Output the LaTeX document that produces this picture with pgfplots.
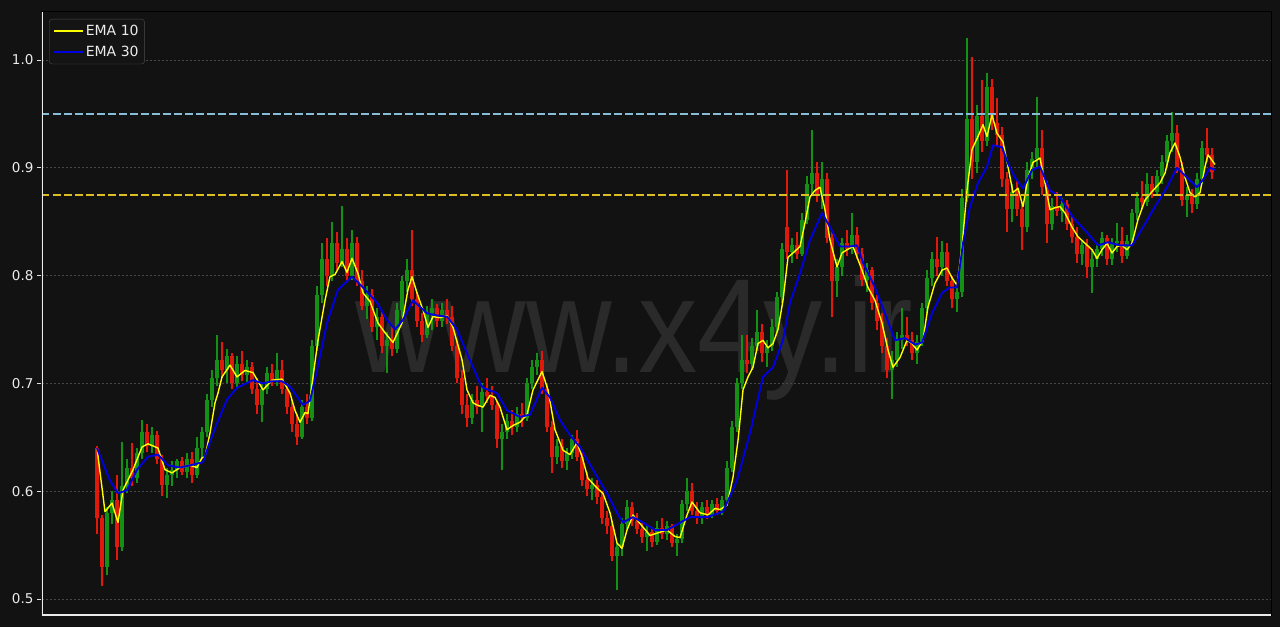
\documentclass[border=0pt]{standalone}
\usepackage{fontspec}
\setmainfont{DejaVu Sans}
\newfontfamily\wmfont{Liberation Sans}
\usepackage{graphicx}
\usepackage{pgfplots}
\usepackage{pgfplotstable}
\pgfplotsset{compat=1.18}
\definecolor{bg}{RGB}{18,18,18}
\definecolor{wm}{RGB}{42,42,42}
\definecolor{gridc}{RGB}{72,72,72}
\definecolor{tickc}{RGB}{225,225,225}
\definecolor{labc}{RGB}{235,235,235}
\definecolor{spinec}{RGB}{235,235,235}
\definecolor{cred}{RGB}{225,25,10}
\definecolor{cgreen}{RGB}{20,145,20}
\definecolor{emay}{RGB}{255,255,0}
\definecolor{emab}{RGB}{0,0,225}
\definecolor{dashb}{RGB}{135,190,215}
\definecolor{dashy}{RGB}{220,190,35}
\definecolor{legfill}{RGB}{20,20,20}
\definecolor{legdraw}{RGB}{75,75,75}

\pgfplotstableread{
x o h l c
0 0.640 0.642 0.560 0.575
5 0.575 0.578 0.512 0.530
10 0.530 0.585 0.522 0.580
15 0.580 0.600 0.570 0.592
20 0.592 0.615 0.536 0.548
25 0.548 0.646 0.545 0.605
30 0.605 0.630 0.598 0.622
35 0.622 0.645 0.605 0.612
40 0.612 0.640 0.608 0.635
45 0.635 0.666 0.630 0.655
50 0.655 0.662 0.636 0.642
55 0.642 0.660 0.635 0.652
60 0.652 0.656 0.625 0.630
65 0.630 0.634 0.596 0.606
70 0.606 0.622 0.594 0.615
75 0.615 0.628 0.605 0.620
80 0.620 0.630 0.612 0.628
85 0.628 0.632 0.615 0.618
90 0.618 0.635 0.612 0.630
95 0.630 0.636 0.608 0.615
100 0.615 0.650 0.612 0.640
105 0.640 0.660 0.632 0.655
110 0.655 0.690 0.650 0.685
115 0.685 0.712 0.678 0.705
120 0.705 0.745 0.698 0.722
125 0.722 0.738 0.705 0.712
130 0.712 0.732 0.700 0.725
135 0.725 0.728 0.695 0.700
140 0.700 0.725 0.695 0.718
145 0.718 0.730 0.702 0.708
150 0.708 0.722 0.700 0.715
155 0.715 0.720 0.690 0.695
160 0.695 0.705 0.672 0.680
165 0.680 0.700 0.664 0.695
170 0.695 0.715 0.690 0.710
175 0.710 0.718 0.698 0.702
180 0.702 0.728 0.698 0.712
185 0.712 0.722 0.690 0.695
190 0.695 0.700 0.672 0.678
195 0.678 0.685 0.655 0.662
200 0.662 0.672 0.643 0.650
205 0.650 0.685 0.648 0.678
210 0.678 0.690 0.662 0.668
215 0.668 0.740 0.665 0.735
220 0.735 0.790 0.730 0.782
225 0.782 0.830 0.775 0.815
230 0.815 0.835 0.790 0.800
235 0.800 0.850 0.795 0.830
240 0.830 0.840 0.805 0.812
245 0.812 0.865 0.808 0.825
250 0.825 0.835 0.795 0.800
255 0.800 0.842 0.796 0.830
260 0.830 0.836 0.790 0.795
265 0.795 0.805 0.768 0.772
270 0.772 0.790 0.760 0.782
275 0.782 0.788 0.748 0.752
280 0.752 0.770 0.740 0.762
285 0.762 0.766 0.728 0.735
290 0.735 0.748 0.710 0.740
295 0.740 0.752 0.725 0.732
300 0.732 0.775 0.728 0.768
305 0.768 0.800 0.762 0.795
310 0.795 0.815 0.785 0.805
315 0.805 0.842 0.772 0.778
320 0.778 0.785 0.752 0.758
325 0.758 0.765 0.738 0.745
330 0.745 0.772 0.742 0.765
335 0.765 0.778 0.750 0.770
340 0.770 0.774 0.752 0.758
345 0.758 0.775 0.752 0.768
350 0.768 0.778 0.755 0.762
355 0.762 0.772 0.730 0.735
360 0.735 0.740 0.700 0.705
365 0.705 0.712 0.672 0.680
370 0.680 0.690 0.660 0.668
375 0.668 0.690 0.662 0.685
380 0.685 0.698 0.672 0.678
385 0.678 0.700 0.655 0.692
390 0.692 0.705 0.682 0.688
395 0.688 0.698 0.675 0.680
400 0.680 0.684 0.640 0.648
405 0.648 0.662 0.620 0.655
410 0.655 0.672 0.648 0.665
415 0.665 0.675 0.652 0.660
420 0.660 0.678 0.655 0.672
425 0.672 0.682 0.660 0.668
430 0.668 0.705 0.665 0.700
435 0.700 0.722 0.695 0.715
440 0.715 0.728 0.708 0.722
445 0.722 0.730 0.690 0.695
450 0.695 0.700 0.655 0.660
455 0.660 0.665 0.617 0.632
460 0.632 0.648 0.625 0.642
465 0.642 0.648 0.622 0.628
470 0.628 0.640 0.620 0.635
475 0.635 0.652 0.630 0.648
480 0.648 0.657 0.628 0.632
485 0.632 0.636 0.605 0.610
490 0.610 0.618 0.596 0.602
495 0.602 0.612 0.592 0.606
500 0.606 0.610 0.588 0.595
505 0.595 0.600 0.570 0.575
510 0.575 0.582 0.560 0.568
515 0.568 0.572 0.535 0.540
520 0.540 0.552 0.508 0.548
525 0.548 0.575 0.540 0.570
530 0.570 0.592 0.565 0.585
535 0.585 0.590 0.568 0.572
540 0.572 0.580 0.560 0.565
545 0.565 0.572 0.552 0.558
550 0.558 0.568 0.545 0.562
555 0.562 0.566 0.548 0.553
560 0.553 0.572 0.550 0.566
565 0.566 0.575 0.556 0.560
570 0.560 0.572 0.555 0.568
575 0.568 0.570 0.548 0.552
580 0.552 0.560 0.540 0.556
585 0.556 0.592 0.552 0.588
590 0.588 0.612 0.582 0.600
595 0.600 0.608 0.578 0.582
600 0.582 0.590 0.570 0.576
605 0.576 0.590 0.570 0.585
610 0.585 0.592 0.574 0.578
615 0.578 0.592 0.575 0.588
620 0.588 0.594 0.578 0.582
625 0.582 0.596 0.578 0.592
630 0.592 0.628 0.588 0.622
635 0.622 0.665 0.618 0.660
640 0.660 0.705 0.655 0.700
645 0.700 0.745 0.695 0.722
650 0.722 0.745 0.710 0.718
655 0.718 0.742 0.712 0.735
660 0.735 0.768 0.730 0.748
665 0.748 0.755 0.720 0.728
670 0.728 0.740 0.715 0.735
675 0.735 0.760 0.730 0.752
680 0.752 0.785 0.748 0.780
685 0.780 0.830 0.775 0.825
690 0.845 0.898 0.815 0.822
695 0.822 0.835 0.812 0.828
700 0.828 0.840 0.815 0.820
705 0.820 0.858 0.818 0.852
710 0.852 0.892 0.848 0.885
715 0.885 0.935 0.875 0.895
720 0.895 0.905 0.868 0.875
725 0.875 0.905 0.862 0.890
730 0.890 0.895 0.830 0.835
735 0.835 0.842 0.762 0.795
740 0.795 0.815 0.780 0.808
745 0.808 0.835 0.800 0.830
750 0.830 0.842 0.818 0.825
755 0.825 0.858 0.820 0.838
760 0.838 0.845 0.815 0.820
765 0.820 0.826 0.790 0.796
770 0.796 0.812 0.785 0.805
775 0.805 0.808 0.768 0.775
780 0.775 0.782 0.750 0.758
785 0.758 0.765 0.728 0.735
790 0.735 0.742 0.705 0.712
795 0.712 0.730 0.686 0.722
800 0.722 0.748 0.715 0.740
805 0.740 0.770 0.732 0.745
810 0.745 0.762 0.735 0.740
815 0.740 0.748 0.722 0.728
820 0.728 0.745 0.718 0.738
825 0.738 0.775 0.735 0.770
830 0.770 0.805 0.765 0.798
835 0.798 0.822 0.790 0.815
840 0.815 0.836 0.800 0.808
845 0.808 0.832 0.800 0.822
850 0.822 0.830 0.790 0.795
855 0.795 0.800 0.770 0.778
860 0.778 0.790 0.766 0.785
865 0.785 0.880 0.780 0.872
870 0.872 1.020 0.868 0.945
875 0.945 1.003 0.890 0.905
880 0.905 0.958 0.895 0.948
885 0.948 0.981 0.915 0.925
890 0.925 0.988 0.920 0.975
895 0.975 0.982 0.935 0.942
900 0.942 0.965 0.920 0.930
905 0.930 0.938 0.882 0.890
910 0.890 0.896 0.840 0.862
915 0.862 0.885 0.850 0.878
920 0.878 0.890 0.855 0.862
925 0.862 0.868 0.824 0.845
930 0.845 0.905 0.840 0.898
935 0.898 0.915 0.890 0.908
940 0.908 0.966 0.900 0.918
945 0.918 0.935 0.875 0.882
950 0.882 0.888 0.830 0.848
955 0.848 0.872 0.842 0.865
960 0.865 0.878 0.855 0.860
965 0.860 0.872 0.850 0.866
970 0.866 0.870 0.842 0.848
975 0.848 0.855 0.830 0.836
980 0.836 0.845 0.812 0.820
985 0.820 0.832 0.810 0.828
990 0.828 0.834 0.798 0.808
995 0.808 0.825 0.784 0.815
1000 0.815 0.830 0.808 0.825
1005 0.825 0.840 0.818 0.835
1010 0.835 0.838 0.810 0.815
1015 0.815 0.835 0.810 0.830
1020 0.830 0.849 0.822 0.832
1025 0.832 0.845 0.812 0.818
1030 0.818 0.838 0.815 0.832
1035 0.832 0.862 0.828 0.858
1040 0.858 0.878 0.852 0.872
1045 0.872 0.888 0.862 0.868
1050 0.868 0.895 0.865 0.885
1055 0.885 0.892 0.872 0.878
1060 0.878 0.898 0.875 0.892
1065 0.892 0.912 0.885 0.905
1070 0.905 0.930 0.900 0.925
1075 0.925 0.952 0.915 0.932
1080 0.932 0.940 0.895 0.900
1085 0.900 0.905 0.865 0.870
1090 0.870 0.882 0.854 0.875
1095 0.875 0.880 0.858 0.866
1100 0.866 0.895 0.862 0.890
1105 0.890 0.925 0.885 0.918
1110 0.918 0.937 0.905 0.912
1115 0.912 0.918 0.890 0.896
}\candles

\pgfplotstableread{
x v
0 0.640
8 0.581
15 0.589
21 0.571
26 0.601
36 0.620
45 0.641
51 0.644
61 0.640
68 0.620
75 0.617
83 0.622
93 0.624
100 0.622
105 0.631
108 0.632
113 0.654
118 0.682
121 0.691
125 0.706
133 0.717
140 0.706
148 0.712
156 0.710
166 0.694
175 0.703
185 0.704
193 0.691
198 0.675
203 0.664
208 0.673
211 0.672
216 0.706
221 0.740
228 0.777
233 0.799
238 0.801
245 0.813
250 0.803
255 0.816
261 0.802
266 0.784
273 0.776
281 0.756
288 0.747
296 0.738
305 0.756
311 0.787
315 0.799
320 0.784
326 0.768
331 0.752
336 0.762
343 0.761
350 0.763
356 0.752
365 0.722
370 0.694
376 0.682
380 0.680
386 0.678
393 0.689
398 0.687
403 0.678
410 0.657
416 0.661
423 0.664
430 0.671
436 0.694
445 0.711
451 0.694
458 0.657
466 0.638
473 0.634
480 0.645
485 0.632
491 0.612
500 0.603
506 0.598
513 0.580
520 0.552
525 0.547
530 0.564
536 0.578
543 0.570
553 0.559
563 0.562
570 0.564
578 0.558
583 0.557
590 0.578
595 0.590
603 0.580
611 0.578
618 0.584
623 0.583
630 0.587
636 0.613
641 0.647
646 0.694
651 0.706
656 0.715
661 0.737
666 0.740
671 0.733
676 0.737
681 0.750
686 0.777
691 0.817
696 0.821
703 0.827
708 0.849
713 0.873
718 0.879
723 0.882
728 0.861
733 0.833
740 0.808
745 0.821
750 0.824
756 0.827
765 0.805
771 0.789
778 0.777
785 0.756
791 0.731
796 0.715
803 0.724
810 0.740
815 0.737
820 0.731
826 0.740
831 0.771
838 0.793
845 0.805
850 0.807
855 0.798
860 0.791
865 0.827
870 0.879
875 0.917
881 0.929
886 0.940
890 0.929
895 0.949
900 0.932
906 0.924
911 0.901
916 0.877
921 0.881
926 0.864
931 0.891
936 0.905
943 0.909
948 0.886
953 0.861
958 0.863
963 0.864
968 0.858
975 0.845
981 0.836
988 0.830
995 0.824
1000 0.816
1005 0.824
1010 0.830
1015 0.821
1020 0.827
1025 0.828
1030 0.824
1035 0.830
1041 0.852
1048 0.870
1056 0.879
1063 0.886
1068 0.895
1073 0.914
1078 0.923
1083 0.910
1088 0.891
1093 0.877
1098 0.873
1103 0.877
1108 0.901
1111 0.912
1115 0.907
1118 0.903
}\ematen

\pgfplotstableread{
x v
0 0.640
13 0.610
21 0.598
30 0.601
40 0.620
51 0.632
61 0.634
71 0.624
83 0.622
93 0.624
106 0.627
111 0.641
120 0.663
130 0.685
140 0.696
156 0.703
166 0.700
175 0.702
185 0.702
193 0.697
200 0.688
206 0.680
213 0.684
220 0.712
230 0.756
241 0.787
255 0.799
266 0.789
280 0.775
290 0.759
298 0.750
306 0.759
316 0.777
330 0.765
340 0.763
350 0.762
360 0.750
370 0.728
383 0.700
386 0.696
400 0.691
410 0.675
423 0.669
433 0.671
445 0.696
453 0.687
463 0.666
473 0.652
483 0.641
496 0.620
510 0.598
520 0.580
526 0.571
536 0.576
546 0.571
558 0.564
570 0.564
593 0.576
610 0.576
626 0.581
640 0.610
653 0.654
666 0.706
676 0.715
686 0.740
693 0.775
703 0.802
713 0.833
725 0.858
733 0.845
743 0.827
753 0.827
760 0.828
766 0.812
778 0.789
788 0.765
798 0.740
808 0.742
818 0.736
825 0.738
835 0.765
845 0.784
853 0.789
860 0.789
866 0.830
873 0.864
881 0.886
890 0.901
896 0.921
905 0.919
911 0.904
918 0.891
926 0.881
935 0.898
943 0.901
953 0.879
963 0.873
976 0.854
990 0.840
1001 0.828
1011 0.831
1023 0.828
1035 0.828
1046 0.845
1058 0.864
1070 0.882
1080 0.900
1090 0.891
1100 0.882
1106 0.889
1113 0.900
1118 0.898
}\ematt

\begin{document}
\begin{tikzpicture}
\fill[bg] (0,0) rectangle (1280pt,627pt);
\node[anchor=base west, inner sep=0pt, text=wm, font=\wmfont\fontsize{134}{134}\selectfont] at (355pt,254pt) {\scalebox{0.885}[1]{www.x4y.ir}};
\begin{axis}[
  at={(42pt,12pt)}, anchor=south west,
  scale only axis, width=1229pt, height=603pt,
  xmin=-55, xmax=1174, ymin=0.4852, ymax=1.0445,
  axis line style={black, line width=1pt},
  xtick=\empty,
  ytick={0.5,0.6,0.7,0.8,0.9,1.0},
  yticklabels={0.5,0.6,0.7,0.8,0.9,1.0},
  ytick pos=left, tick align=outside,
  major tick length=5pt,
  tick style={color=tickc, line width=0.8pt},
  yticklabel style={font=\fontsize{13.5}{16}\selectfont, text=labc},
  /pgf/number format/assume math mode=true,
  ymajorgrids,
  grid style={gridc, line width=0.7pt, dash pattern=on 2pt off 2pt},
  legend style={at={(0.0057,0.9884)}, anchor=north west, fill=legfill, draw=legdraw,
    rounded corners=3pt, text=labc, font=\fontsize{14}{16}\selectfont,
    inner xsep=4pt, inner ysep=4pt, row sep=5pt},
  legend cell align=left,
  legend image code/.code={\draw[#1, line width=1.6pt] (0pt,0pt) -- (29pt,0pt);},
]
% wicks up
\addplot[draw=none, mark=none, forget plot,
  restrict expr to domain={\thisrow{c}-\thisrow{o}}{0:1},
  error bars/.cd, y dir=plus, y explicit, error mark=none,
  error bar style={draw=cgreen, line width=1.2pt}]
  table[x=x, y=l, y error expr=\thisrow{h}-\thisrow{l}] {\candles};
% bodies up
\addplot[draw=none, mark=none, forget plot,
  restrict expr to domain={\thisrow{c}-\thisrow{o}}{0:1},
  error bars/.cd, y dir=plus, y explicit, error mark=none,
  error bar style={draw=cgreen, line width=3.8pt}]
  table[x=x, y=o, y error expr=\thisrow{c}-\thisrow{o}] {\candles};
% wicks down
\addplot[draw=none, mark=none, forget plot,
  restrict expr to domain={\thisrow{c}-\thisrow{o}}{-1:-0.00001},
  error bars/.cd, y dir=plus, y explicit, error mark=none,
  error bar style={draw=cred, line width=1.2pt}]
  table[x=x, y=l, y error expr=\thisrow{h}-\thisrow{l}] {\candles};
% bodies down
\addplot[draw=none, mark=none, forget plot,
  restrict expr to domain={\thisrow{c}-\thisrow{o}}{-1:-0.00001},
  error bars/.cd, y dir=plus, y explicit, error mark=none,
  error bar style={draw=cred, line width=3.8pt}]
  table[x=x, y=c, y error expr=\thisrow{o}-\thisrow{c}] {\candles};
\addplot[emay, line width=1.4pt, line join=round] table[x=x, y=v] {\ematen};
\addlegendentry{EMA 10}
\addplot[emab, line width=1.9pt, line join=round] table[x=x, y=v] {\ematt};
\addlegendentry{EMA 30}
\addplot[dashb, line width=1.8pt, dash pattern=on 7.5pt off 3.5pt, forget plot] coordinates {(-55,0.95) (1174,0.95)};
\addplot[dashy, line width=1.8pt, dash pattern=on 7.5pt off 3.5pt, forget plot] coordinates {(-55,0.875) (1174,0.875)};
\draw[spinec, line width=1.4pt] (rel axis cs:0,1) -- (rel axis cs:0,0) -- (rel axis cs:1,0);
\end{axis}
\end{tikzpicture}
\end{document}
